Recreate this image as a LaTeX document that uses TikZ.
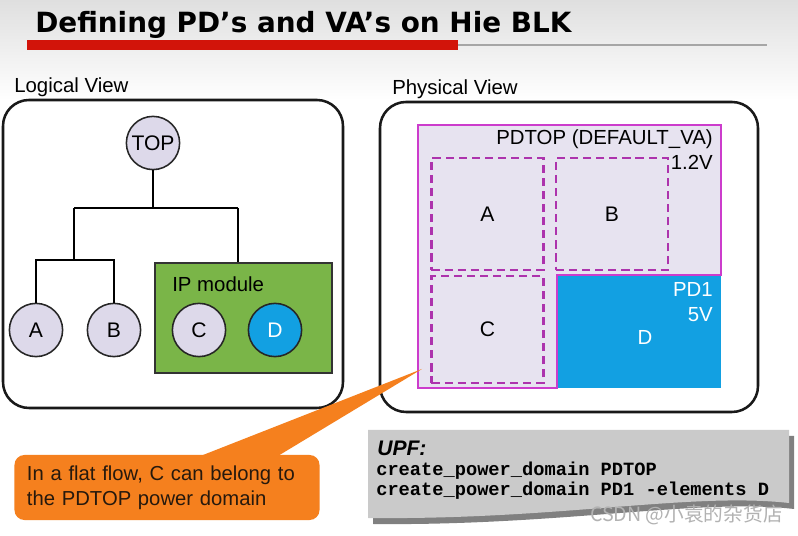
\documentclass[tikz,border=0pt]{standalone}
\usepackage{fontspec}
\setmainfont{Liberation Sans}
\setmonofont{Liberation Mono}
\newfontfamily\titlefont{DejaVu Sans}
\newfontfamily\cjkfont{Noto Sans CJK SC}
\definecolor{modfill}{RGB}{221,217,234}
\definecolor{pdfill}{RGB}{231,227,240}
\definecolor{pdline}{RGB}{204,60,204}
\definecolor{ipgreen}{RGB}{122,181,72}
\definecolor{pdblue}{RGB}{18,160,226}
\definecolor{noteorange}{RGB}{245,128,30}
\definecolor{upfgray}{RGB}{202,202,202}
\definecolor{titlered}{RGB}{210,20,10}

\begin{document}
\begin{tikzpicture}[x=0.025cm, y=-0.025cm,
    lbl/.style={font=\fontsize{14.5pt}{17pt}\selectfont, inner sep=0pt},
    mod/.style={circle, draw=black!85, line width=1.1pt, fill=modfill, minimum size=1.33cm, inner sep=0pt, font=\fontsize{15pt}{17pt}\selectfont},
    view/.style={draw=black!90, line width=1.8pt, rounded corners=0.65cm},
    inst/.style={draw=pdline!85!black, line width=2.1pt, dash pattern=on 5.8pt off 3.5pt, minimum width=2.8cm, inner sep=0pt, font=\fontsize{15pt}{17pt}\selectfont},
    wire/.style={line width=1.1pt},
    code/.style={anchor=base west, inner sep=0pt, font=\ttfamily\bfseries\fontsize{13.3pt}{14.2pt}\selectfont}]

    \useasboundingbox (0,0) rectangle (798,536);
    \fill[white] (0,0) rectangle (798,536);
    \shade[top color=gray!25, bottom color=white] (0,0) rectangle (798,100);

    \node[anchor=base west, inner sep=0pt, font=\titlefont\bfseries\fontsize{19.8pt}{23pt}\selectfont] (title) at (35,33) {Defining PD’s and VA’s on Hie BLK};
    \fill[titlered] (27,40) rectangle (458,50);
    \draw[line width=1.4pt, black!35] (458,45) -- (767,45);

    \node[lbl, anchor=base west] (lview) at (14,93) {Logical View};
    \draw[view] (3,100) rectangle (343,408);

    \node[mod] (top) at (153,143) {TOP};
    \node[mod] (a) at (36,330) {A};
    \node[mod] (b) at (114,330) {B};
    \node[draw=black!80, line width=1pt, fill=ipgreen, minimum width=4.425cm, minimum height=2.75cm, inner sep=0pt] (ip) at (243.5,318) {};
    \node[lbl, anchor=base west] (iplabel) at (172,292) {IP module};
    \node[mod] (c) at (199,330) {C};
    \node[mod, fill=pdblue, text=white] (d) at (275,330) {D};

    \coordinate (jl) at (74,208);
    \coordinate (jr) at (238,208);
    \coordinate (jab) at (74,260);
    \draw[wire] (top.south) -- (top.south |- jl);
    \draw[wire] (jl) -- (jr);
    \draw[wire] (jl) -- (jab);
    \draw[wire] (a.north) |- (jab) -| (b.north);
    \draw[wire] (jr) -- (jr |- ip.north);

    \node[lbl, anchor=base west] (pview) at (392,95) {Physical View};
    \draw[view] (380,102) rectangle (758,412);

    \fill[pdfill] (418,125) rectangle (721,388);
    \fill[pdblue] (557,275) rectangle (721,388);
    \draw[pdline, line width=1.3pt] (557,388) -- (418,388) -- (418,125) -- (721,125) -- (721,275) -- (557,275) -- cycle;
    \node[lbl, anchor=base east] (pdtop) at (713,145) {PDTOP (DEFAULT\_VA)};
    \node[lbl, anchor=base east] (vtop) at (713,170) {1.2V};

    \node[inst, minimum height=2.8cm] (pa) at (487.5,214) {A};
    \node[inst, minimum height=2.8cm] (pb) at (612,214) {B};
    \node[inst, minimum height=2.675cm] (pc) at (487.5,329.5) {C};

    \node[lbl, anchor=base east, text=white] (pdone) at (713,297) {PD1};
    \node[lbl, anchor=base east, text=white] (vone) at (713,322) {5V};
    \node[lbl, text=white] (pd) at (645,337) {D};

    \coordinate (tip) at (422,369);
    \node[fill=noteorange, rounded corners=0.25cm, minimum width=7.625cm, minimum height=1.625cm, text width=7.0cm, align=left, inner xsep=0.3cm, font=\fontsize{14.4pt}{17.7pt}\selectfont, text=black!80!brown] (note) at (167,487.5) {In a flat flow, C can belong to\\the PDTOP power domain};
    \fill[noteorange] ([xshift=0.65cm, yshift=-3pt]note.north) -- (tip) -- ([xshift=2.65cm, yshift=-3pt]note.north) -- cycle;

    \fill[black!50] (373,436) -- (794,436) -- (794,509) .. controls (700,498) and (560,526) .. (373,524) -- cycle;
    \fill[upfgray] (368,430) -- (789,430) -- (789,503) .. controls (690,492) and (560,520) .. (368,518) -- cycle;
    \node[anchor=base west, inner sep=0pt, font=\bfseries\itshape\fontsize{15pt}{17pt}\selectfont] (upf) at (377,456) {UPF:};
    \node[code] (codeone) at (376,476) {create\_power\_domain PDTOP};
    \node[code] (codetwo) at (376,496) {create\_power\_domain PD1 -elements D};

    \node[anchor=base east, inner sep=0pt, text=black!30, font=\cjkfont\fontsize{14pt}{16pt}\selectfont] (mark) at (783,522) {CSDN @小袁的杂货店};

\end{tikzpicture}
\end{document}
